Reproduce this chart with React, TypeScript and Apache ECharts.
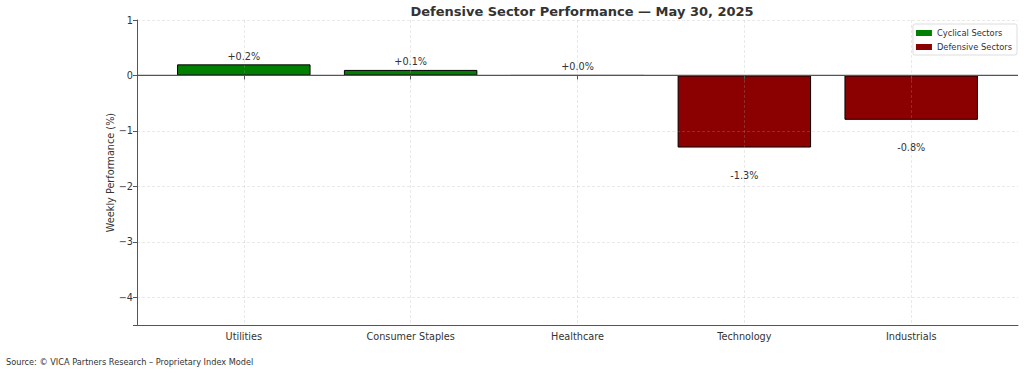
import React, { useEffect, useRef } from "react";
import * as echarts from "echarts";

const sectors = ["Utilities", "Consumer Staples", "Healthcare", "Technology", "Industrials"];
const weeklyPerf = [0.2, 0.1, 0.0, -1.3, -0.8];
const groups = ["Cyclical Sectors", "Cyclical Sectors", "Cyclical Sectors", "Defensive Sectors", "Defensive Sectors"];
const seriesNames = ["Cyclical Sectors", "Defensive Sectors"];
const seriesColors = ["#008000", "#8B0000"];
const yMin = -4.5;
const yMax = 1;

const FONT = "DejaVu Sans";
const GRID_COLOR = "rgba(170,170,170,0.32)";

function fmtPct(v: number) {
  return (v >= 0 ? "+" : "") + v.toFixed(1) + "%";
}

export default function App() {
  const ref = useRef<HTMLDivElement>(null);
  useEffect(() => {
    if (!ref.current) return;
    const chart = echarts.init(ref.current, null, { renderer: "svg", width: 1024, height: 373 });

    const barSeries = seriesNames.map((name, si) => ({
      name,
      type: "bar",
      xAxisIndex: 1,
      yAxisIndex: 1,
      barWidth: "80%",
      barGap: "-100%",
      clip: false,
      z: 2,
      itemStyle: { color: seriesColors[si], borderColor: "#000", borderWidth: 1 },
      data: weeklyPerf.map((v, i) =>
        groups[i] === name
          ? {
              value: v,
              label: {
                show: true,
                position: v >= 0 ? "top" : "bottom",
                distance: v >= 0 ? 3 : 23,
                formatter: fmtPct(v),
                color: "#333",
                fontSize: 9.7,
                fontFamily: FONT,
              },
            }
          : "-"
      ),
    }));

    const option: any = {
      animation: false,
      backgroundColor: "#fff",
      textStyle: { fontFamily: FONT },
      title: {
        text: "Defensive Sector Performance — May 30, 2025",
        left: 577,
        top: 0,
        textAlign: "center",
        textStyle: { fontFamily: FONT, fontSize: 13, fontWeight: "bold", color: "#333" },
      },
      legend: {
        data: seriesNames,
        orient: "vertical",
        right: 7,
        top: 24,
        itemWidth: 16,
        itemHeight: 6,
        itemGap: 6,
        padding: [5, 5, 4, 3],
        borderColor: "#ddd",
        borderWidth: 1,
        borderRadius: 2,
        icon: "rect",
        itemStyle: { borderWidth: 0 },
        textStyle: { fontFamily: FONT, fontSize: 8.3, color: "#333" },
      },
      grid: [
        { left: 137, right: 6, top: 20, bottom: 48, containLabel: false },
        { left: 243.8, right: 112.8, top: 20, bottom: 48, containLabel: false },
      ],
      xAxis: [
        {
          type: "value",
          gridIndex: 0,
          min: 0,
          max: 1,
          z: 6,
          axisLine: { show: true, onZero: false, lineStyle: { color: "#555", width: 1 } },
          axisTick: { show: false },
          axisLabel: { show: false },
          splitLine: { show: false },
        },
        {
          type: "category",
          gridIndex: 1,
          data: sectors,
          boundaryGap: false,
          z: 3,
          axisLine: { show: false },
          axisTick: { show: true, length: 4, lineStyle: { color: "#555" } },
          axisLabel: { color: "#333", fontSize: 9.7, fontFamily: FONT, margin: 6 },
          splitLine: { show: true, lineStyle: { color: GRID_COLOR, type: [3, 2], width: 0.8 } },
        },
      ],
      yAxis: [
        {
          type: "value",
          gridIndex: 0,
          min: yMin,
          max: yMax,
          splitNumber: 5,
          z: 3,
          name: "Weekly Performance (%)",
          nameLocation: "middle",
          nameGap: 22,
          nameMoveOverlap: false,
          nameTextStyle: { fontFamily: FONT, fontSize: 9.7, color: "#333" },
          axisLine: { show: true, lineStyle: { color: "#555", width: 1 } },
          axisTick: { show: true, length: 4, lineStyle: { color: "#555" } },
          axisLabel: {
            color: "#333",
            fontSize: 9.7,
            fontFamily: FONT,
            margin: 4,
            formatter: (v: number) => (Number.isInteger(v) ? String(v).replace("-", "\u2212") : ""),
          },
          splitLine: { show: true, lineStyle: { color: GRID_COLOR, type: [3, 2], width: 0.8 } },
        },
        {
          type: "value",
          gridIndex: 1,
          min: yMin,
          max: yMax,
          show: false,
          splitLine: { show: false },
        },
      ],
      series: [
        ...barSeries,
        {
          name: "zero",
          type: "line",
          xAxisIndex: 0,
          yAxisIndex: 0,
          data: [
            [0, 0],
            [1, 0],
          ],
          symbol: "none",
          silent: true,
          z: 4,
          lineStyle: { color: "#555", width: 1.2 },
        },
      ],
      graphic: [
        {
          type: "text",
          left: 6,
          top: 358,
          style: {
            text: "Source: © VICA Partners Research – Proprietary Index Model",
            fontFamily: FONT,
            fontSize: 8.2,
            fill: "#333",
          },
        },
      ],
    };
    chart.setOption(option);
    return () => chart.dispose();
  }, []);
  return (
    <div
      ref={ref}
      style={{ position: "fixed", left: 0, top: 0, width: 1024, height: 373, background: "#fff" }}
    />
  );
}
